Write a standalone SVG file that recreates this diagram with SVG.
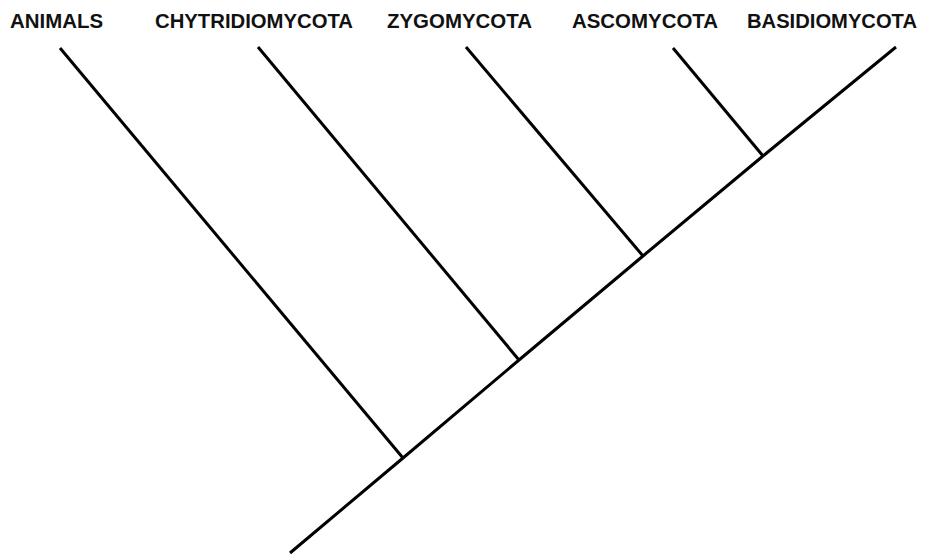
<svg xmlns="http://www.w3.org/2000/svg" width="925" height="557" viewBox="0 0 925 557">
<style>
.lbl{font-family:"Liberation Sans",Arial,sans-serif;font-weight:bold;font-size:20px;fill:#111;}
.ln{stroke:#000;stroke-width:3;stroke-linecap:butt;fill:none;}
</style>
<rect width="925" height="557" fill="#fff"/>
<g id="label-animals"><text class="lbl" x="10" y="28" textLength="93" lengthAdjust="spacingAndGlyphs">ANIMALS</text></g>
<g id="label-chytridiomycota"><text class="lbl" x="155" y="28" textLength="198" lengthAdjust="spacingAndGlyphs">CHYTRIDIOMYCOTA</text></g>
<g id="label-zygomycota"><text class="lbl" x="387" y="28" textLength="145" lengthAdjust="spacingAndGlyphs">ZYGOMYCOTA</text></g>
<g id="label-ascomycota"><text class="lbl" x="572" y="28" textLength="146" lengthAdjust="spacingAndGlyphs">ASCOMYCOTA</text></g>
<g id="label-basidiomycota"><text class="lbl" x="747" y="28" textLength="170" lengthAdjust="spacingAndGlyphs">BASIDIOMYCOTA</text></g>
<g id="connectors">
<path class="ln" d="M290 553 L403 458 L519 360 L643 256 L763 156 L896 47"/>
<line class="ln" x1="60" y1="48" x2="403" y2="458"/>
<line class="ln" x1="258" y1="47" x2="519" y2="360"/>
<line class="ln" x1="466" y1="47" x2="643" y2="256"/>
<line class="ln" x1="673" y1="48" x2="763" y2="156"/>
</g>
</svg>
